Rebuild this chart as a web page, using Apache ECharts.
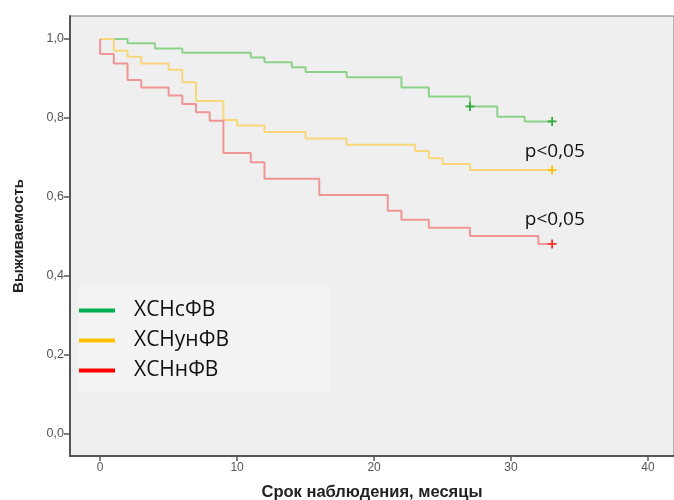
<!DOCTYPE html>
<html>
<head>
<meta charset="utf-8">
<script src="https://cdn.jsdelivr.net/npm/echarts@6/dist/echarts.min.js"></script>
<style>
    html, body { margin: 0; padding: 0; background: #fff; }
    #chart { width: 674px; height: 500px; }
</style>
</head>
<body>
<div id="chart"></div>
<script>
    // survival data
    var names = ['ХСНсФВ', 'ХСНунФВ', 'ХСНнФВ'];

    var greenT = [0, 2, 4, 6, 11, 12, 14, 15, 18, 22, 24, 27, 29, 31, 33];
    var greenS = [1.0, 0.989, 0.976, 0.965, 0.953, 0.941, 0.928, 0.916, 0.903, 0.877, 0.854, 0.829, 0.803, 0.791, 0.791];
    var greenCensor = [27, 33];

    var yellowT = [0, 1, 2, 3, 5, 6, 7, 9, 10, 12, 15, 18, 23, 24, 25, 27, 33];
    var yellowS = [1.0, 0.970, 0.955, 0.938, 0.922, 0.890, 0.843, 0.795, 0.781, 0.764, 0.748, 0.732, 0.716, 0.698, 0.683, 0.668, 0.668];
    var yellowCensor = [33];

    var redT = [0, 0, 1, 2, 3, 5, 6, 7, 8, 9, 11, 12, 16, 21, 22, 24, 27, 32, 33];
    var redS = [1.0, 0.962, 0.938, 0.896, 0.877, 0.857, 0.835, 0.814, 0.793, 0.711, 0.688, 0.646, 0.605, 0.565, 0.542, 0.522, 0.501, 0.481, 0.481];
    var redCensor = [33];

    var xTicks = [0, 10, 20, 30, 40];
    var yTicks = [0, 0.2, 0.4, 0.6, 0.8, 1.0];

    var pLabel = 'p<0,05';

    var plus = 'path://M4,0 L6,0 L6,4 L10,4 L10,6 L6,6 L6,10 L4,10 L4,6 L0,6 L0,4 L4,4 Z';

    function buildData(ts, ss, censor, markColor) {
        var out = [];
        for (var i = 0; i < ts.length; i++) {
            var item = {value: [ts[i], ss[i]]};
            var last = (i === ts.length - 1) || ts[i + 1] !== ts[i];
            if (censor.indexOf(ts[i]) >= 0 && last) {
                item.symbol = plus;
                item.symbolSize = 9;
                item.itemStyle = {color: markColor};
            }
            out.push(item);
        }
        return out;
    }

    function kmSeries(name, ts, ss, censor, lineColor, markColor) {
        return {
            name: name,
            type: 'line',
            step: 'end',
            symbol: 'none',
            showSymbol: true,
            showAllSymbol: true,
            silent: true,
            data: buildData(ts, ss, censor, markColor),
            lineStyle: {color: lineColor, width: 2},
            itemStyle: {color: lineColor}
        };
    }

    var chart = echarts.init(document.getElementById('chart'));

    var labelFmt = function (v) { return v.toFixed(1).replace('.', ','); };

    var greenSeries = kmSeries(names[0], greenT, greenS, greenCensor, '#8cd28c', '#2eaa3a');
    var yellowSeries = kmSeries(names[1], yellowT, yellowS, yellowCensor, '#f8d77a', '#ffc000');
    var redSeries = kmSeries(names[2], redT, redS, redCensor, '#f09595', '#ff3030');

    var pStyle = {
        show: true,
        formatter: pLabel,
        color: '#111',
        fontSize: 19,
        fontFamily: 'Open Sans'
    };
    yellowSeries.markPoint = {
        symbol: 'circle', symbolSize: 0, silent: true,
        label: pStyle,
        data: [{coord: [33.2, 0.715]}]
    };
    redSeries.markPoint = {
        symbol: 'circle', symbolSize: 0, silent: true,
        label: pStyle,
        data: [{coord: [33.2, 0.543]}]
    };

    var option = {
        animation: false,
        backgroundColor: '#ffffff',
        grid: {
            left: 70,
            right: 0,
            top: 16,
            bottom: 44,
            outerBoundsMode: 'none',
            containLabel: false,
            show: true,
            backgroundColor: '#efefef',
            borderColor: '#777',
            borderWidth: 1
        },
        legend: {
            orient: 'vertical',
            left: 78,
            top: 285,
            padding: [15, 101, 10, 1],
            backgroundColor: '#f3f3f3',
            itemWidth: 36,
            itemHeight: 4,
            itemGap: 9,
            icon: 'rect',
            textStyle: {
                fontSize: 21,
                color: '#111',
                fontFamily: 'Open Sans',
                padding: [0, 0, 0, 14]
            },
            data: [
                {name: names[0], itemStyle: {color: '#00b050'}},
                {name: names[1], itemStyle: {color: '#ffc000'}},
                {name: names[2], itemStyle: {color: '#ff0000'}}
            ]
        },
        xAxis: {
            type: 'value',
            min: -2.2,
            max: 41.9,
            name: 'Срок наблюдения, месяцы',
            nameLocation: 'middle',
            nameGap: 28,
            nameTextStyle: {fontSize: 16.5, fontWeight: 'bold', color: '#222', fontFamily: 'Liberation Sans'},
            axisLine: {show: true, onZero: false, lineStyle: {color: '#555', width: 2}},
            axisTick: {show: true, length: 5, customValues: xTicks, lineStyle: {color: '#555', width: 1.5}},
            axisLabel: {customValues: xTicks, color: '#555', fontSize: 12, margin: 6, fontFamily: 'Liberation Sans'},
            splitLine: {show: false}
        },
        yAxis: {
            type: 'value',
            min: -0.056,
            max: 1.058,
            name: 'Выживаемость',
            nameLocation: 'middle',
            nameGap: 44,
            nameRotate: 90,
            nameTextStyle: {fontSize: 15, fontWeight: 'bold', color: '#222', fontFamily: 'Liberation Sans'},
            axisLine: {show: true, onZero: false, lineStyle: {color: '#555', width: 2}},
            axisTick: {show: true, length: 6, customValues: yTicks, lineStyle: {color: '#555', width: 1.5}},
            axisLabel: {customValues: yTicks, color: '#555', fontSize: 12.5, margin: 6, fontFamily: 'Liberation Sans', formatter: labelFmt},
            splitLine: {show: false}
        },
        series: [greenSeries, yellowSeries, redSeries]
    };

    chart.setOption(option);
</script>
</body>
</html>
